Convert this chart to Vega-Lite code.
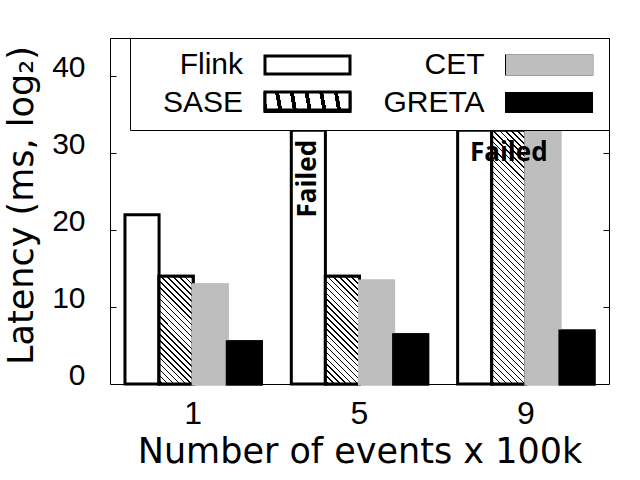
{
  "$schema": "https://vega.github.io/schema/vega-lite/v6.json",
  "width": 499,
  "height": 346,
  "autosize": {"type": "none"},
  "padding": {"left": 110, "top": 38, "right": 31, "bottom": 96},
  "background": "white",
  "datasets": {
    "bars": [
      {"group": "1", "series": "Flink", "value": 22.0},
      {"group": "1", "series": "SASE", "value": 14.0},
      {"group": "1", "series": "CET", "value": 12.9},
      {"group": "1", "series": "GRETA", "value": 5.5},
      {"group": "5", "series": "Flink", "value": 33.0},
      {"group": "5", "series": "SASE", "value": 14.0},
      {"group": "5", "series": "CET", "value": 13.4},
      {"group": "5", "series": "GRETA", "value": 6.4},
      {"group": "9", "series": "Flink", "value": 33.0},
      {"group": "9", "series": "SASE", "value": 33.0},
      {"group": "9", "series": "CET", "value": 33.2},
      {"group": "9", "series": "GRETA", "value": 6.9}
    ],
    "notes": [
      {"group": "5", "series": "Flink", "value": 26.7, "note": "Failed"},
      {"group": "9", "series": "SASE", "value": 30.0, "note": "Failed"}
    ]
  },
  "resolve": {"axis": {"x": "independent", "y": "independent"}},
  "layer": [
    {
      "data": {"name": "bars"},
      "mark": {"type": "bar", "strokeWidth": 3},
      "encoding": {
        "x": {
          "field": "group", "type": "nominal",
          "scale": {"domain": ["1", "5", "9"], "paddingInner": 0.18, "paddingOuter": 0.09},
          "axis": {
            "orient": "bottom", "ticks": false, "domain": false, "grid": false, "labelAngle": 0,
            "labelFont": "Liberation Sans", "labelFontSize": 32, "labelColor": "black",
            "labelPadding": 39, "labelBaseline": "alphabetic",
            "title": "Number of events x 100k", "titleFont": "DejaVu Sans", "titleFontSize": 35,
            "titleFontWeight": "normal", "titleColor": "black",
            "titleX": 249.5, "titleY": 78, "titleAlign": "center", "titleBaseline": "alphabetic"
          }
        },
        "xOffset": {
          "field": "series", "type": "nominal",
          "scale": {"domain": ["Flink", "SASE", "CET", "GRETA"], "paddingInner": 0, "paddingOuter": 0}
        },
        "y": {
          "field": "value", "type": "quantitative",
          "scale": {"domain": [0, 45], "nice": false},
          "axis": {
            "orient": "left", "values": [0, 10, 20, 30, 40], "ticks": false,
            "domain": false, "grid": false,
            "labelFont": "Liberation Sans", "labelFontSize": 30, "labelColor": "black",
            "labelPadding": 25, "labelAlign": "right", "labelBaseline": "alphabetic", "labelFlush": false,
            "title": "Latency (ms, log₂)", "titleFont": "DejaVu Sans", "titleFontSize": 35,
            "titleFontWeight": "normal", "titleColor": "black",
            "titleX": -89, "titleY": 167, "titleAngle": -90, "titleAlign": "center", "titleBaseline": "middle"
          }
        },
        "color": {
          "field": "series", "type": "nominal",
          "scale": {"domain": ["Flink", "SASE", "CET", "GRETA"], "range": ["white", "white", "#bebebe", "black"]},
          "legend": {
            "title": null, "orient": "none", "legendX": 20, "legendY": 0,
            "columns": 2, "columnPadding": 26.5, "rowPadding": 6, "padding": 11.5,
            "fillColor": "white", "strokeColor": "black",
            "symbolType": "M-3.148,-0.667H3.148V0.667H-3.148Z", "symbolSize": 729, "symbolStrokeWidth": 3,
            "symbolOffset": 151, "labelOffset": -79.5, "labelAlign": "right",
            "labelFont": "Liberation Sans", "labelFontSize": 30, "labelColor": "black",
            "encode": {"symbols": {"stroke": {"value": "black"}}}
          }
        },
        "stroke": {
          "condition": {"test": "datum.series === 'CET'", "value": "#bebebe"},
          "value": "black"
        }
      }
    },
    {
      "data": {"name": "bars"},
      "transform": [{"filter": "datum.series === 'SASE' && datum.value < 20"}],
      "mark": {
        "type": "bar", "stroke": "black", "strokeWidth": 3,
        "fill": {
          "gradient": "linear", "x1": 0, "y1": 1, "x2": 0.37925, "y2": -0.1967,
          "stops": [
            {"offset": 0, "color": "white"},
            {"offset": 0.0167, "color": "white"}, {"offset": 0.0167, "color": "black"}, {"offset": 0.0279, "color": "black"}, {"offset": 0.0279, "color": "white"},
            {"offset": 0.0583, "color": "white"}, {"offset": 0.0583, "color": "black"}, {"offset": 0.0696, "color": "black"}, {"offset": 0.0696, "color": "white"},
            {"offset": 0.1, "color": "white"}, {"offset": 0.1, "color": "black"}, {"offset": 0.1113, "color": "black"}, {"offset": 0.1113, "color": "white"},
            {"offset": 0.1417, "color": "white"}, {"offset": 0.1417, "color": "black"}, {"offset": 0.1529, "color": "black"}, {"offset": 0.1529, "color": "white"},
            {"offset": 0.1833, "color": "white"}, {"offset": 0.1833, "color": "black"}, {"offset": 0.1946, "color": "black"}, {"offset": 0.1946, "color": "white"},
            {"offset": 0.225, "color": "white"}, {"offset": 0.225, "color": "black"}, {"offset": 0.2363, "color": "black"}, {"offset": 0.2363, "color": "white"},
            {"offset": 0.2667, "color": "white"}, {"offset": 0.2667, "color": "black"}, {"offset": 0.2779, "color": "black"}, {"offset": 0.2779, "color": "white"},
            {"offset": 0.3083, "color": "white"}, {"offset": 0.3083, "color": "black"}, {"offset": 0.3196, "color": "black"}, {"offset": 0.3196, "color": "white"},
            {"offset": 0.35, "color": "white"}, {"offset": 0.35, "color": "black"}, {"offset": 0.3613, "color": "black"}, {"offset": 0.3613, "color": "white"},
            {"offset": 0.3917, "color": "white"}, {"offset": 0.3917, "color": "black"}, {"offset": 0.4029, "color": "black"}, {"offset": 0.4029, "color": "white"},
            {"offset": 0.4333, "color": "white"}, {"offset": 0.4333, "color": "black"}, {"offset": 0.4446, "color": "black"}, {"offset": 0.4446, "color": "white"},
            {"offset": 0.475, "color": "white"}, {"offset": 0.475, "color": "black"}, {"offset": 0.4863, "color": "black"}, {"offset": 0.4863, "color": "white"},
            {"offset": 0.5167, "color": "white"}, {"offset": 0.5167, "color": "black"}, {"offset": 0.5279, "color": "black"}, {"offset": 0.5279, "color": "white"},
            {"offset": 0.5583, "color": "white"}, {"offset": 0.5583, "color": "black"}, {"offset": 0.5696, "color": "black"}, {"offset": 0.5696, "color": "white"},
            {"offset": 0.6, "color": "white"}, {"offset": 0.6, "color": "black"}, {"offset": 0.6113, "color": "black"}, {"offset": 0.6113, "color": "white"},
            {"offset": 0.6417, "color": "white"}, {"offset": 0.6417, "color": "black"}, {"offset": 0.6529, "color": "black"}, {"offset": 0.6529, "color": "white"},
            {"offset": 0.6833, "color": "white"}, {"offset": 0.6833, "color": "black"}, {"offset": 0.6946, "color": "black"}, {"offset": 0.6946, "color": "white"},
            {"offset": 0.725, "color": "white"}, {"offset": 0.725, "color": "black"}, {"offset": 0.7363, "color": "black"}, {"offset": 0.7363, "color": "white"},
            {"offset": 0.7667, "color": "white"}, {"offset": 0.7667, "color": "black"}, {"offset": 0.7779, "color": "black"}, {"offset": 0.7779, "color": "white"},
            {"offset": 0.8083, "color": "white"}, {"offset": 0.8083, "color": "black"}, {"offset": 0.8196, "color": "black"}, {"offset": 0.8196, "color": "white"},
            {"offset": 0.85, "color": "white"}, {"offset": 0.85, "color": "black"}, {"offset": 0.8613, "color": "black"}, {"offset": 0.8613, "color": "white"},
            {"offset": 0.8917, "color": "white"}, {"offset": 0.8917, "color": "black"}, {"offset": 0.9029, "color": "black"}, {"offset": 0.9029, "color": "white"},
            {"offset": 0.9333, "color": "white"}, {"offset": 0.9333, "color": "black"}, {"offset": 0.9446, "color": "black"}, {"offset": 0.9446, "color": "white"},
            {"offset": 0.975, "color": "white"}, {"offset": 0.975, "color": "black"}, {"offset": 0.9863, "color": "black"}, {"offset": 0.9863, "color": "white"},
            {"offset": 1, "color": "white"}
          ]
        }
      },
      "encoding": {
        "x": {
          "field": "group", "type": "nominal",
          "scale": {"domain": ["1", "5", "9"], "paddingInner": 0.18, "paddingOuter": 0.09},
          "axis": {"orient": "top", "labels": false, "domain": false, "grid": false, "tickSize": -6, "tickColor": "black", "title": null}
        },
        "xOffset": {
          "field": "series", "type": "nominal",
          "scale": {"domain": ["Flink", "SASE", "CET", "GRETA"], "paddingInner": 0, "paddingOuter": 0}
        },
        "y": {
          "field": "value", "type": "quantitative",
          "scale": {"domain": [0, 45], "nice": false},
          "axis": {"orient": "right", "values": [10, 20, 30, 40], "labels": false, "domain": false, "grid": false, "tickSize": -6, "tickColor": "black", "title": null}
        },
        "opacity": {
          "field": "series", "type": "nominal",
          "scale": {"domain": ["SASE"], "range": [1]},
          "legend": {
            "title": null, "orient": "none", "legendX": 20, "legendY": 36,
            "columns": 2, "columnPadding": 26.5, "rowPadding": 6, "padding": 11.5,
            "symbolType": "M-3.148,-0.667H3.148V0.667H-3.148Z", "symbolSize": 729, "symbolStrokeWidth": 3,
            "symbolOffset": 151, "labelOffset": -79.5, "labelAlign": "right", "labelExpr": "''",
            "labelFont": "Liberation Sans", "labelFontSize": 30, "labelColor": "black",
            "encode": {
              "symbols": {
                "stroke": {"value": "black"},
                "fill": {"value": {
                  "gradient": "linear", "x1": 0, "y1": 1, "x2": 1.1598, "y2": 0.7544,
                  "stops": [
                    {"offset": 0, "color": "white"},
                    {"offset": 0.0235, "color": "white"}, {"offset": 0.0235, "color": "black"}, {"offset": 0.0394, "color": "black"}, {"offset": 0.0394, "color": "white"},
                    {"offset": 0.0824, "color": "white"}, {"offset": 0.0824, "color": "black"}, {"offset": 0.0982, "color": "black"}, {"offset": 0.0982, "color": "white"},
                    {"offset": 0.1412, "color": "white"}, {"offset": 0.1412, "color": "black"}, {"offset": 0.1571, "color": "black"}, {"offset": 0.1571, "color": "white"},
                    {"offset": 0.2, "color": "white"}, {"offset": 0.2, "color": "black"}, {"offset": 0.2159, "color": "black"}, {"offset": 0.2159, "color": "white"},
                    {"offset": 0.2588, "color": "white"}, {"offset": 0.2588, "color": "black"}, {"offset": 0.2747, "color": "black"}, {"offset": 0.2747, "color": "white"},
                    {"offset": 0.3176, "color": "white"}, {"offset": 0.3176, "color": "black"}, {"offset": 0.3335, "color": "black"}, {"offset": 0.3335, "color": "white"},
                    {"offset": 0.3765, "color": "white"}, {"offset": 0.3765, "color": "black"}, {"offset": 0.3924, "color": "black"}, {"offset": 0.3924, "color": "white"},
                    {"offset": 0.4353, "color": "white"}, {"offset": 0.4353, "color": "black"}, {"offset": 0.4512, "color": "black"}, {"offset": 0.4512, "color": "white"},
                    {"offset": 0.4941, "color": "white"}, {"offset": 0.4941, "color": "black"}, {"offset": 0.51, "color": "black"}, {"offset": 0.51, "color": "white"},
                    {"offset": 0.5529, "color": "white"}, {"offset": 0.5529, "color": "black"}, {"offset": 0.5688, "color": "black"}, {"offset": 0.5688, "color": "white"},
                    {"offset": 0.6118, "color": "white"}, {"offset": 0.6118, "color": "black"}, {"offset": 0.6276, "color": "black"}, {"offset": 0.6276, "color": "white"},
                    {"offset": 0.6706, "color": "white"}, {"offset": 0.6706, "color": "black"}, {"offset": 0.6865, "color": "black"}, {"offset": 0.6865, "color": "white"},
                    {"offset": 0.7294, "color": "white"}, {"offset": 0.7294, "color": "black"}, {"offset": 0.7453, "color": "black"}, {"offset": 0.7453, "color": "white"},
                    {"offset": 0.7882, "color": "white"}, {"offset": 0.7882, "color": "black"}, {"offset": 0.8041, "color": "black"}, {"offset": 0.8041, "color": "white"},
                    {"offset": 0.8471, "color": "white"}, {"offset": 0.8471, "color": "black"}, {"offset": 0.8629, "color": "black"}, {"offset": 0.8629, "color": "white"},
                    {"offset": 0.9059, "color": "white"}, {"offset": 0.9059, "color": "black"}, {"offset": 0.9218, "color": "black"}, {"offset": 0.9218, "color": "white"},
                    {"offset": 0.9647, "color": "white"}, {"offset": 0.9647, "color": "black"}, {"offset": 0.9806, "color": "black"}, {"offset": 0.9806, "color": "white"},
                    {"offset": 1, "color": "white"}
                  ]
                }}
              }
            }
          }
        }
      }
    },
    {
      "data": {"name": "bars"},
      "transform": [{"filter": "datum.series === 'SASE' && datum.value >= 20"}],
      "mark": {
        "type": "bar", "stroke": "black", "strokeWidth": 3,
        "fill": {
          "gradient": "linear", "x1": 0, "y1": 1, "x2": 0.14977, "y2": -0.1143,
          "stops": [
            {"offset": 0, "color": "white"},
            {"offset": 0.0083, "color": "white"}, {"offset": 0.0083, "color": "black"}, {"offset": 0.014, "color": "black"}, {"offset": 0.014, "color": "white"},
            {"offset": 0.0292, "color": "white"}, {"offset": 0.0292, "color": "black"}, {"offset": 0.0348, "color": "black"}, {"offset": 0.0348, "color": "white"},
            {"offset": 0.05, "color": "white"}, {"offset": 0.05, "color": "black"}, {"offset": 0.0556, "color": "black"}, {"offset": 0.0556, "color": "white"},
            {"offset": 0.0708, "color": "white"}, {"offset": 0.0708, "color": "black"}, {"offset": 0.0765, "color": "black"}, {"offset": 0.0765, "color": "white"},
            {"offset": 0.0917, "color": "white"}, {"offset": 0.0917, "color": "black"}, {"offset": 0.0973, "color": "black"}, {"offset": 0.0973, "color": "white"},
            {"offset": 0.1125, "color": "white"}, {"offset": 0.1125, "color": "black"}, {"offset": 0.1181, "color": "black"}, {"offset": 0.1181, "color": "white"},
            {"offset": 0.1333, "color": "white"}, {"offset": 0.1333, "color": "black"}, {"offset": 0.139, "color": "black"}, {"offset": 0.139, "color": "white"},
            {"offset": 0.1542, "color": "white"}, {"offset": 0.1542, "color": "black"}, {"offset": 0.1598, "color": "black"}, {"offset": 0.1598, "color": "white"},
            {"offset": 0.175, "color": "white"}, {"offset": 0.175, "color": "black"}, {"offset": 0.1806, "color": "black"}, {"offset": 0.1806, "color": "white"},
            {"offset": 0.1958, "color": "white"}, {"offset": 0.1958, "color": "black"}, {"offset": 0.2015, "color": "black"}, {"offset": 0.2015, "color": "white"},
            {"offset": 0.2167, "color": "white"}, {"offset": 0.2167, "color": "black"}, {"offset": 0.2223, "color": "black"}, {"offset": 0.2223, "color": "white"},
            {"offset": 0.2375, "color": "white"}, {"offset": 0.2375, "color": "black"}, {"offset": 0.2431, "color": "black"}, {"offset": 0.2431, "color": "white"},
            {"offset": 0.2583, "color": "white"}, {"offset": 0.2583, "color": "black"}, {"offset": 0.264, "color": "black"}, {"offset": 0.264, "color": "white"},
            {"offset": 0.2792, "color": "white"}, {"offset": 0.2792, "color": "black"}, {"offset": 0.2848, "color": "black"}, {"offset": 0.2848, "color": "white"},
            {"offset": 0.3, "color": "white"}, {"offset": 0.3, "color": "black"}, {"offset": 0.3056, "color": "black"}, {"offset": 0.3056, "color": "white"},
            {"offset": 0.3208, "color": "white"}, {"offset": 0.3208, "color": "black"}, {"offset": 0.3265, "color": "black"}, {"offset": 0.3265, "color": "white"},
            {"offset": 0.3417, "color": "white"}, {"offset": 0.3417, "color": "black"}, {"offset": 0.3473, "color": "black"}, {"offset": 0.3473, "color": "white"},
            {"offset": 0.3625, "color": "white"}, {"offset": 0.3625, "color": "black"}, {"offset": 0.3681, "color": "black"}, {"offset": 0.3681, "color": "white"},
            {"offset": 0.3833, "color": "white"}, {"offset": 0.3833, "color": "black"}, {"offset": 0.389, "color": "black"}, {"offset": 0.389, "color": "white"},
            {"offset": 0.4042, "color": "white"}, {"offset": 0.4042, "color": "black"}, {"offset": 0.4098, "color": "black"}, {"offset": 0.4098, "color": "white"},
            {"offset": 0.425, "color": "white"}, {"offset": 0.425, "color": "black"}, {"offset": 0.4306, "color": "black"}, {"offset": 0.4306, "color": "white"},
            {"offset": 0.4458, "color": "white"}, {"offset": 0.4458, "color": "black"}, {"offset": 0.4515, "color": "black"}, {"offset": 0.4515, "color": "white"},
            {"offset": 0.4667, "color": "white"}, {"offset": 0.4667, "color": "black"}, {"offset": 0.4723, "color": "black"}, {"offset": 0.4723, "color": "white"},
            {"offset": 0.4875, "color": "white"}, {"offset": 0.4875, "color": "black"}, {"offset": 0.4931, "color": "black"}, {"offset": 0.4931, "color": "white"},
            {"offset": 0.5083, "color": "white"}, {"offset": 0.5083, "color": "black"}, {"offset": 0.514, "color": "black"}, {"offset": 0.514, "color": "white"},
            {"offset": 0.5292, "color": "white"}, {"offset": 0.5292, "color": "black"}, {"offset": 0.5348, "color": "black"}, {"offset": 0.5348, "color": "white"},
            {"offset": 0.55, "color": "white"}, {"offset": 0.55, "color": "black"}, {"offset": 0.5556, "color": "black"}, {"offset": 0.5556, "color": "white"},
            {"offset": 0.5708, "color": "white"}, {"offset": 0.5708, "color": "black"}, {"offset": 0.5765, "color": "black"}, {"offset": 0.5765, "color": "white"},
            {"offset": 0.5917, "color": "white"}, {"offset": 0.5917, "color": "black"}, {"offset": 0.5973, "color": "black"}, {"offset": 0.5973, "color": "white"},
            {"offset": 0.6125, "color": "white"}, {"offset": 0.6125, "color": "black"}, {"offset": 0.6181, "color": "black"}, {"offset": 0.6181, "color": "white"},
            {"offset": 0.6333, "color": "white"}, {"offset": 0.6333, "color": "black"}, {"offset": 0.639, "color": "black"}, {"offset": 0.639, "color": "white"},
            {"offset": 0.6542, "color": "white"}, {"offset": 0.6542, "color": "black"}, {"offset": 0.6598, "color": "black"}, {"offset": 0.6598, "color": "white"},
            {"offset": 0.675, "color": "white"}, {"offset": 0.675, "color": "black"}, {"offset": 0.6806, "color": "black"}, {"offset": 0.6806, "color": "white"},
            {"offset": 0.6958, "color": "white"}, {"offset": 0.6958, "color": "black"}, {"offset": 0.7015, "color": "black"}, {"offset": 0.7015, "color": "white"},
            {"offset": 0.7167, "color": "white"}, {"offset": 0.7167, "color": "black"}, {"offset": 0.7223, "color": "black"}, {"offset": 0.7223, "color": "white"},
            {"offset": 0.7375, "color": "white"}, {"offset": 0.7375, "color": "black"}, {"offset": 0.7431, "color": "black"}, {"offset": 0.7431, "color": "white"},
            {"offset": 0.7583, "color": "white"}, {"offset": 0.7583, "color": "black"}, {"offset": 0.764, "color": "black"}, {"offset": 0.764, "color": "white"},
            {"offset": 0.7792, "color": "white"}, {"offset": 0.7792, "color": "black"}, {"offset": 0.7848, "color": "black"}, {"offset": 0.7848, "color": "white"},
            {"offset": 0.8, "color": "white"}, {"offset": 0.8, "color": "black"}, {"offset": 0.8056, "color": "black"}, {"offset": 0.8056, "color": "white"},
            {"offset": 0.8208, "color": "white"}, {"offset": 0.8208, "color": "black"}, {"offset": 0.8265, "color": "black"}, {"offset": 0.8265, "color": "white"},
            {"offset": 0.8417, "color": "white"}, {"offset": 0.8417, "color": "black"}, {"offset": 0.8473, "color": "black"}, {"offset": 0.8473, "color": "white"},
            {"offset": 0.8625, "color": "white"}, {"offset": 0.8625, "color": "black"}, {"offset": 0.8681, "color": "black"}, {"offset": 0.8681, "color": "white"},
            {"offset": 0.8833, "color": "white"}, {"offset": 0.8833, "color": "black"}, {"offset": 0.889, "color": "black"}, {"offset": 0.889, "color": "white"},
            {"offset": 0.9042, "color": "white"}, {"offset": 0.9042, "color": "black"}, {"offset": 0.9098, "color": "black"}, {"offset": 0.9098, "color": "white"},
            {"offset": 0.925, "color": "white"}, {"offset": 0.925, "color": "black"}, {"offset": 0.9306, "color": "black"}, {"offset": 0.9306, "color": "white"},
            {"offset": 0.9458, "color": "white"}, {"offset": 0.9458, "color": "black"}, {"offset": 0.9515, "color": "black"}, {"offset": 0.9515, "color": "white"},
            {"offset": 0.9667, "color": "white"}, {"offset": 0.9667, "color": "black"}, {"offset": 0.9723, "color": "black"}, {"offset": 0.9723, "color": "white"},
            {"offset": 0.9875, "color": "white"}, {"offset": 0.9875, "color": "black"}, {"offset": 0.9931, "color": "black"}, {"offset": 0.9931, "color": "white"},
            {"offset": 1, "color": "white"}
          ]
        }
      },
      "encoding": {
        "x": {"field": "group", "type": "nominal", "scale": {"domain": ["1", "5", "9"], "paddingInner": 0.18, "paddingOuter": 0.09}, "axis": null},
        "xOffset": {"field": "series", "type": "nominal", "scale": {"domain": ["Flink", "SASE", "CET", "GRETA"], "paddingInner": 0, "paddingOuter": 0}},
        "y": {"field": "value", "type": "quantitative", "scale": {"domain": [0, 45], "nice": false}, "axis": null}
      }
    },
    {
      "data": {"name": "bars"},
      "transform": [{"filter": "datum.series === 'CET'"}],
      "mark": {"type": "bar", "fill": "#bebebe", "stroke": "#bebebe", "strokeWidth": 3},
      "encoding": {
        "x": {"field": "group", "type": "nominal", "scale": {"domain": ["1", "5", "9"], "paddingInner": 0.18, "paddingOuter": 0.09}, "axis": null},
        "xOffset": {"field": "series", "type": "nominal", "scale": {"domain": ["Flink", "SASE", "CET", "GRETA"], "paddingInner": 0, "paddingOuter": 0}},
        "y": {"field": "value", "type": "quantitative", "scale": {"domain": [0, 45], "nice": false}, "axis": null},
        "strokeDash": {
          "field": "series", "type": "nominal",
          "scale": {"domain": ["CET"], "range": [[1, 0]]},
          "legend": {
            "title": null, "orient": "none", "legendX": 262.5, "legendY": 0,
            "columns": 2, "columnPadding": 26.5, "rowPadding": 6, "padding": 11.5,
            "symbolType": "M-3.148,-0.667H3.148V0.667H-3.148Z", "symbolSize": 729, "symbolStrokeWidth": 3,
            "symbolOffset": 151, "labelOffset": -79.5, "labelAlign": "right", "labelExpr": "''",
            "labelFont": "Liberation Sans", "labelFontSize": 30, "labelColor": "black",
            "encode": {"symbols": {"fill": {"value": "#bebebe"}, "stroke": {"value": "#bebebe"}}}
          }
        }
      }
    },
    {
      "data": {"name": "bars"},
      "transform": [{"filter": "datum.series === 'GRETA'"}],
      "mark": {"type": "bar", "fill": "black", "stroke": "black", "strokeWidth": 3},
      "encoding": {
        "x": {"field": "group", "type": "nominal", "scale": {"domain": ["1", "5", "9"], "paddingInner": 0.18, "paddingOuter": 0.09}, "axis": null},
        "xOffset": {"field": "series", "type": "nominal", "scale": {"domain": ["Flink", "SASE", "CET", "GRETA"], "paddingInner": 0, "paddingOuter": 0}},
        "y": {
          "field": "value", "type": "quantitative", "scale": {"domain": [0, 45], "nice": false},
          "axis": {"orient": "left", "values": [10, 20, 30, 40], "labels": false, "domain": false, "grid": false, "tickSize": -6, "tickColor": "black", "title": null}
        }
      }
    },
    {
      "data": {"name": "notes"},
      "transform": [{"filter": "datum.group === '5'"}],
      "mark": {"type": "text", "angle": 270, "font": "Open Sans", "fontWeight": "bold", "fontSize": 26, "color": "black", "align": "center", "baseline": "middle"},
      "encoding": {
        "x": {"field": "group", "type": "nominal", "scale": {"domain": ["1", "5", "9"], "paddingInner": 0.18, "paddingOuter": 0.09}, "axis": null},
        "xOffset": {"field": "series", "type": "nominal", "scale": {"domain": ["Flink", "SASE", "CET", "GRETA"], "paddingInner": 0, "paddingOuter": 0}},
        "y": {"field": "value", "type": "quantitative", "scale": {"domain": [0, 45], "nice": false}, "axis": null},
        "text": {"field": "note"}
      }
    },
    {
      "data": {"name": "notes"},
      "transform": [{"filter": "datum.group === '9'"}],
      "mark": {"type": "text", "font": "Open Sans", "fontWeight": "bold", "fontSize": 26, "color": "black", "align": "center", "baseline": "middle"},
      "encoding": {
        "x": {"field": "group", "type": "nominal", "scale": {"domain": ["1", "5", "9"], "paddingInner": 0.18, "paddingOuter": 0.09}, "axis": null},
        "xOffset": {"field": "series", "type": "nominal", "scale": {"domain": ["Flink", "SASE", "CET", "GRETA"], "paddingInner": 0, "paddingOuter": 0}},
        "y": {"field": "value", "type": "quantitative", "scale": {"domain": [0, 45], "nice": false}, "axis": null},
        "text": {"field": "note"}
      }
    }
  ],
  "config": {
    "view": {"stroke": "black", "strokeWidth": 1},
    "axis": {"grid": false}
  }
}
